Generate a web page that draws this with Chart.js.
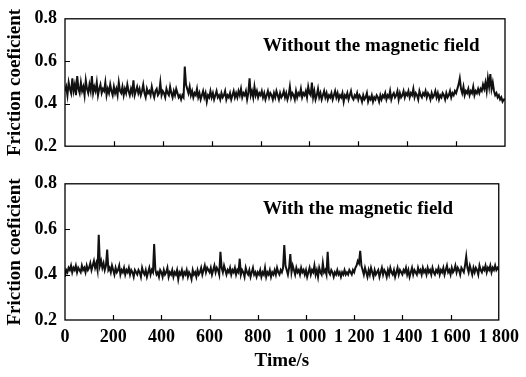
<!DOCTYPE html>
<html>
<head>
<meta charset="utf-8">
<script src="https://cdn.jsdelivr.net/npm/chart.js@4.4.1/dist/chart.umd.min.js"></script>
<style>
  body { margin: 0; background: #fff; }
  #wrap { position: relative; width: 526px; height: 377px; }
  .box { position: absolute; left: 0; width: 526px; }
</style>
</head>
<body>
<div id="wrap">
  <div class="box" style="top:0;height:165px"><canvas id="topChart"></canvas></div>
  <div class="box" style="top:165px;height:212px"><canvas id="bottomChart"></canvas></div>
</div>
<script>
// tijd in seconden, elke 5 s een meting (0 .. 1800)
let step = 5;
let times = [];
for (let t = 0; t <= 1800; t += step) times.push(t);

// wrijvingscoefficient zonder magnetisch veld
let withoutField = [
  0.46,0.48,0.44,0.50,0.47,0.45,0.52,0.46,0.49,0.44,0.53,0.47,0.45,0.50,0.46,0.48,0.44,0.51,0.47,0.45,
  0.49,0.46,0.53,0.45,0.48,0.46,0.50,0.44,0.47,0.49,0.45,0.47,0.46,0.50,0.44,0.47,0.45,0.49,0.46,0.44,
  0.48,0.45,0.47,0.44,0.50,0.46,0.45,0.48,0.44,0.47,0.45,0.49,0.46,0.44,0.47,0.45,0.51,0.44,0.46,0.48,
  0.45,0.47,0.44,0.46,0.49,0.45,0.43,0.47,0.45,0.46,0.44,0.48,0.45,0.43,0.46,0.47,0.44,0.45,0.50,0.44,
  0.46,0.45,0.43,0.47,0.45,0.44,0.48,0.45,0.43,0.46,0.44,0.47,0.45,0.43,0.44,0.42,0.44,0.43,0.575,0.49,
  0.47,0.45,0.48,0.44,0.46,0.43,0.45,0.44,0.47,0.43,0.45,0.42,0.44,0.46,0.43,0.45,0.41,0.44,0.43,0.46,
  0.43,0.45,0.42,0.44,0.46,0.43,0.44,0.42,0.45,0.43,0.44,0.46,0.42,0.44,0.43,0.45,0.42,0.44,0.46,0.43,
  0.45,0.43,0.46,0.44,0.47,0.43,0.45,0.44,0.46,0.42,0.45,0.52,0.44,0.46,0.43,0.48,0.44,0.46,0.43,0.45,
  0.44,0.46,0.43,0.45,0.42,0.44,0.46,0.43,0.45,0.44,0.42,0.45,0.43,0.46,0.44,0.42,0.45,0.43,0.44,0.46,
  0.43,0.45,0.42,0.44,0.48,0.43,0.45,0.44,0.42,0.46,0.43,0.45,0.44,0.47,0.43,0.45,0.44,0.46,0.43,0.48,
  0.45,0.44,0.50,0.43,0.46,0.42,0.44,0.47,0.43,0.45,0.42,0.44,0.46,0.43,0.45,0.42,0.44,0.43,0.45,0.42,
  0.44,0.46,0.43,0.45,0.42,0.44,0.43,0.45,0.41,0.44,0.43,0.45,0.42,0.44,0.46,0.43,0.42,0.44,0.43,0.45,
  0.42,0.44,0.43,0.41,0.44,0.42,0.43,0.45,0.41,0.43,0.42,0.44,0.41,0.43,0.42,0.44,0.43,0.41,0.44,0.42,
  0.44,0.43,0.45,0.42,0.44,0.43,0.46,0.42,0.44,0.45,0.43,0.44,0.46,0.42,0.45,0.43,0.44,0.46,0.43,0.45,
  0.44,0.46,0.43,0.45,0.44,0.47,0.43,0.45,0.44,0.42,0.46,0.44,0.43,0.45,0.44,0.46,0.43,0.45,0.44,0.42,
  0.45,0.43,0.44,0.46,0.43,0.45,0.42,0.44,0.43,0.45,0.44,0.42,0.45,0.43,0.44,0.46,0.43,0.45,0.44,0.46,
  0.45,0.47,0.49,0.52,0.47,0.45,0.48,0.44,0.46,0.45,0.47,0.44,0.46,0.45,0.48,0.44,0.46,0.45,0.47,0.45,
  0.47,0.46,0.49,0.47,0.50,0.46,0.52,0.48,0.54,0.47,0.50,0.46,0.44,0.45,0.43,0.44,0.42,0.43,0.41,0.42,
  0.42
];

// wrijvingscoefficient met magnetisch veld
let withField = [
  0.39,0.42,0.41,0.43,0.42,0.44,0.41,0.43,0.42,0.44,0.41,0.43,0.42,0.41,0.44,0.42,0.43,0.41,0.44,0.42,
  0.43,0.45,0.42,0.44,0.46,0.43,0.45,0.42,0.575,0.44,0.46,0.43,0.45,0.42,0.44,0.51,0.42,0.43,0.41,0.44,
  0.42,0.40,0.43,0.41,0.42,0.44,0.40,0.42,0.41,0.43,0.40,0.42,0.41,0.43,0.40,0.42,0.41,0.39,0.42,0.41,
  0.40,0.42,0.41,0.39,0.43,0.41,0.40,0.42,0.39,0.41,0.43,0.40,0.42,0.41,0.535,0.42,0.40,0.41,0.39,0.42,
  0.41,0.39,0.42,0.40,0.41,0.43,0.39,0.41,0.40,0.42,0.39,0.41,0.40,0.42,0.38,0.41,0.40,0.42,0.39,0.41,
  0.40,0.42,0.39,0.41,0.40,0.38,0.42,0.40,0.41,0.39,0.42,0.40,0.41,0.43,0.40,0.42,0.44,0.41,0.43,0.42,
  0.41,0.43,0.40,0.42,0.44,0.41,0.43,0.42,0.40,0.50,0.43,0.41,0.44,0.42,0.40,0.42,0.41,0.43,0.40,0.42,
  0.41,0.43,0.40,0.42,0.41,0.47,0.40,0.42,0.41,0.39,0.43,0.41,0.40,0.42,0.39,0.41,0.43,0.40,0.41,0.39,
  0.41,0.40,0.42,0.39,0.41,0.40,0.43,0.39,0.41,0.40,0.42,0.39,0.41,0.40,0.42,0.40,0.43,0.41,0.40,0.42,
  0.41,0.43,0.53,0.44,0.42,0.40,0.43,0.49,0.41,0.44,0.42,0.40,0.43,0.41,0.42,0.40,0.43,0.41,0.42,0.40,
  0.42,0.39,0.41,0.43,0.40,0.42,0.41,0.44,0.40,0.42,0.39,0.43,0.41,0.40,0.45,0.41,0.42,0.40,0.50,0.41,
  0.40,0.42,0.41,0.39,0.41,0.40,0.42,0.40,0.41,0.39,0.41,0.40,0.42,0.40,0.41,0.40,0.42,0.41,0.40,0.42,
  0.41,0.43,0.44,0.46,0.45,0.505,0.44,0.42,0.40,0.43,0.41,0.39,0.42,0.40,0.43,0.41,0.39,0.42,0.40,0.41,
  0.42,0.39,0.41,0.43,0.40,0.42,0.41,0.39,0.42,0.40,0.43,0.41,0.40,0.42,0.39,0.41,0.43,0.40,0.42,0.41,
  0.40,0.42,0.41,0.43,0.40,0.42,0.39,0.41,0.43,0.40,0.42,0.41,0.40,0.43,0.41,0.42,0.40,0.43,0.41,0.42,
  0.40,0.43,0.41,0.42,0.40,0.43,0.41,0.40,0.42,0.41,0.43,0.40,0.42,0.41,0.43,0.40,0.42,0.44,0.41,0.42,
  0.40,0.43,0.41,0.42,0.44,0.41,0.43,0.42,0.40,0.43,0.42,0.41,0.44,0.48,0.43,0.41,0.44,0.42,0.40,0.43,
  0.41,0.43,0.42,0.40,0.44,0.42,0.41,0.43,0.42,0.44,0.41,0.43,0.42,0.44,0.41,0.43,0.42,0.44,0.42,0.43,
  0.42
];

// labels in de grafieken
let panelTitles = ['Without the magnetic field', 'With the magnetic field'];
let yTitle = 'Friction coeficient';
let xTitle = 'Time/s';

let fontFam = '"Liberation Serif", "Times New Roman", serif';

// frame + naar binnen gerichte tickjes + tekst in het plotvlak
let framePlugin = {
  id: 'frame',
  afterDraw(chart, args, opts) {
    let ctx = chart.ctx;
    let a = chart.chartArea;
    let xs = chart.scales.x, ys = chart.scales.y;
    ctx.save();
    ctx.strokeStyle = '#000';
    ctx.lineWidth = 1.3;
    ctx.strokeRect(a.left, a.top, a.right - a.left, a.bottom - a.top);
    ctx.lineWidth = 1.2;
    ctx.beginPath();
    for (let t = 200; t < 1800; t += 200) {
      let px = Math.round(xs.getPixelForValue(t)) + 0.5;
      ctx.moveTo(px, a.bottom);
      ctx.lineTo(px, a.bottom - 5);
    }
    for (let v of [0.4, 0.6]) {
      let py = Math.round(ys.getPixelForValue(v)) + 0.5;
      ctx.moveTo(a.left, py);
      ctx.lineTo(a.left + 5, py);
    }
    ctx.stroke();
    ctx.fillStyle = '#000';
    ctx.font = 'bold 19px ' + fontFam;
    ctx.textBaseline = 'middle';
    ctx.fillText(opts.text, a.left + 198, a.top + opts.dy);
    ctx.restore();
  }
};

function makeChart(id, values, title, showX, dy) {
  let ctx = document.getElementById(id).getContext('2d');
  return new Chart(ctx, {
    type: 'line',
    data: {
      datasets: [{
        data: times.map((t, i) => ({ x: t, y: values[i] })),
        borderColor: '#111',
        borderWidth: 2,
        pointRadius: 0,
        tension: 0
      }]
    },
    options: {
      responsive: true,
      maintainAspectRatio: false,
      animation: false,
      layout: { padding: { top: 13, right: 21, bottom: showX ? 0 : 10, left: 0 } },
      plugins: {
        legend: { display: false },
        tooltip: { enabled: false },
        frame: { text: title, dy: dy }
      },
      scales: {
        x: {
          type: 'linear',
          min: 0,
          max: 1800,
          grid: { display: false, drawTicks: false },
          border: { display: false },
          ticks: {
            display: showX,
            stepSize: 200,
            padding: 7,
            color: '#000',
            font: { family: fontFam, size: 18, weight: 'bold' },
            maxRotation: 0,
            callback: v => v >= 1000 ? String(v).replace(/(\d)(\d{3})$/, '$1 $2') : v
          },
          title: {
            display: showX,
            text: xTitle,
            color: '#000',
            font: { family: fontFam, size: 19, weight: 'bold' },
            padding: { top: 0, bottom: 5 }
          },
          afterFit: s => { s.height = showX ? 57 : 0; }
        },
        y: {
          min: 0.2,
          max: 0.8,
          grid: { display: false, drawTicks: false },
          border: { display: false },
          ticks: {
            stepSize: 0.2,
            padding: 8,
            color: '#000',
            font: { family: fontFam, size: 18, weight: 'bold' },
            callback: v => v.toFixed(1)
          },
          title: {
            display: true,
            text: yTitle,
            color: '#000',
            font: { family: fontFam, size: 19, weight: 'bold' },
            padding: { top: 4, bottom: 0 }
          },
          afterFit: s => { s.width = 65; }
        }
      }
    },
    plugins: [framePlugin]
  });
}

makeChart('topChart', withoutField, panelTitles[0], false, 27);
makeChart('bottomChart', withField, panelTitles[1], true, 25);
</script>
</body>
</html>
